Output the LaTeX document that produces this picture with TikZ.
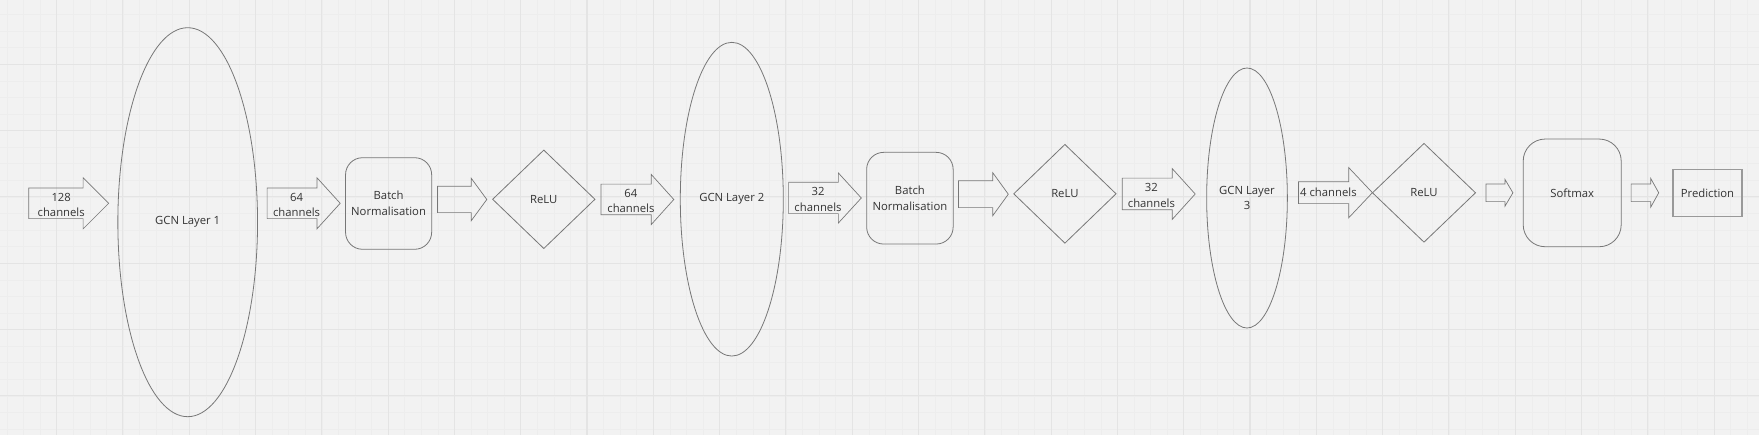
\documentclass[tikz,border=0pt]{standalone}
\usepackage{fontspec}
\setmainfont{Open Sans}
\usetikzlibrary{shapes.geometric, shapes.arrows}

\definecolor{board}{HTML}{F2F2F2}
\definecolor{gridmaj}{HTML}{E4E4E4}
\definecolor{gridmin}{HTML}{EDEDED}
\definecolor{edge}{HTML}{777777}
\definecolor{ink}{HTML}{333333}

\tikzset{
  minorgrid/.style={gridmin, line width=0.5pt},
  majorgrid/.style={gridmaj, line width=1.1pt},
  layer/.style={ellipse, draw=edge, line width=0.8pt, inner sep=0pt, align=center},
  normbox/.style={rectangle, draw=edge, line width=0.8pt, rounded corners=17pt, inner sep=2pt, align=center},
  relu/.style={diamond, draw=edge, line width=0.8pt, inner sep=0pt},
  outbox/.style={rectangle, draw=edge!75, line width=1.4pt, inner sep=2pt},
  chan/.style={inner sep=0pt, align=center},
  % length, half shaft, head extend, tip angle
  blockarrow/.style n args={4}{single arrow, draw=edge, line width=0.7pt,
    anchor=tail, outer sep=0pt, inner xsep=0pt, inner ysep=#2pt,
    text height=0pt, text depth=0pt, minimum width=0pt,
    single arrow head extend=#3pt, minimum height=#1pt, single arrow tip angle=#4}
}

\begin{document}
\begin{tikzpicture}[x=1pt, y=-1pt, every node/.style={font=\fontsize{11.3}{15.5}\selectfont, text=ink}]
  % Board
  \fill[board] (0,0) rectangle (1759,435);
  \begin{scope}
    \clip (0,0) rectangle (1759,435);
    \foreach \i in {-4,...,103} {
      \draw[minorgrid] ({56.6+16.575*\i},0) -- ({56.6+16.575*\i},435);
    }
    \foreach \j in {-4,...,23} {
      \draw[minorgrid] (0,{64.3+16.575*\j}) -- (1759,{64.3+16.575*\j});
    }
    \foreach \i in {-1,...,26} {
      \draw[majorgrid] ({56.6+66.3*\i},0) -- ({56.6+66.3*\i},435);
    }
    \foreach \j in {-1,...,6} {
      \draw[majorgrid] (0,{64.3+66.3*\j}) -- (1759,{64.3+66.3*\j});
    }
  \end{scope}

  % GCN layers
  \node[layer, minimum width=139.7pt, minimum height=389pt] (gcn1) at (187.7,222.2) {GCN Layer 1};
  \node[layer, minimum width=103pt, minimum height=313.7pt] (gcn2) at (731.8,199.2) {GCN Layer 2};
  \node[layer, minimum width=80.7pt, minimum height=260pt] (gcn3) at (1247,198) {GCN Layer\\3};

  % Batch normalisation and softmax
  \node[normbox, minimum width=86.1pt, minimum height=91.6pt] (bn1) at (388.6,203.5) {Batch\\Normalisation};
  \node[normbox, minimum width=86.5pt, minimum height=91.7pt] (bn2) at (909.9,198.2) {Batch\\Normalisation};
  \node[normbox, rounded corners=22pt, minimum width=98pt, minimum height=107.7pt] (soft) at (1572.2,192.9) {Softmax};

  % Activations
  \node[relu, minimum width=102.6pt, minimum height=98.7pt] (relu1) at (543.8,199.3) {ReLU};
  \node[relu, minimum width=102.6pt, minimum height=99pt] (relu2) at (1064.9,193.8) {ReLU};
  \node[relu, minimum width=103.3pt, minimum height=99pt] (relu3) at (1424,192.8) {ReLU};

  % Output
  \node[outbox, minimum width=69.3pt, minimum height=47.4pt] (pred) at (1707.5,193) {Prediction};

  % Block arrows
  \node[blockarrow={80}{15}{10.2}{90}] (a1) at (28.7,203.3) {};
  \node[blockarrow={73.1}{15}{10.2}{95.4}] (a2) at (267.1,203.3) {};
  \node[blockarrow={49.4}{12.8}{8.05}{107.5}] (a3) at (437.4,199.5) {};
  \node[blockarrow={72.8}{15}{9.65}{96}] (a4) at (601,199.5) {};
  \node[blockarrow={72.7}{15.3}{9.4}{95}] (a5) at (788.6,198) {};
  \node[blockarrow={49.8}{13.1}{8}{108.2}] (a6) at (958.5,194.2) {};
  \node[blockarrow={72.9}{15.5}{9.5}{95.7}] (a7) at (1122.3,194) {};
  \node[blockarrow={73.9}{10.6}{14.15}{93.3}] (a8) at (1298.5,192.7) {};
  \node[blockarrow={26.9}{8.5}{4.5}{118.7}] (a9) at (1486,192.8) {};
  \node[blockarrow={27.6}{8.5}{5.35}{121.9}] (a10) at (1631.1,192.8) {};

  % Channel labels
  \node[chan] (c1) at (61.2,205.2) {128\\channels};
  \node[chan] (c2) at (296.6,205.2) {64\\channels};
  \node[chan] (c4) at (630.9,200.9) {64\\channels};
  \node[chan] (c5) at (818,199.7) {32\\channels};
  \node[chan] (c7) at (1151.4,195.5) {32\\channels};
  \node[chan] (c8) at (1328.4,192.7) {4 channels};
\end{tikzpicture}
\end{document}
